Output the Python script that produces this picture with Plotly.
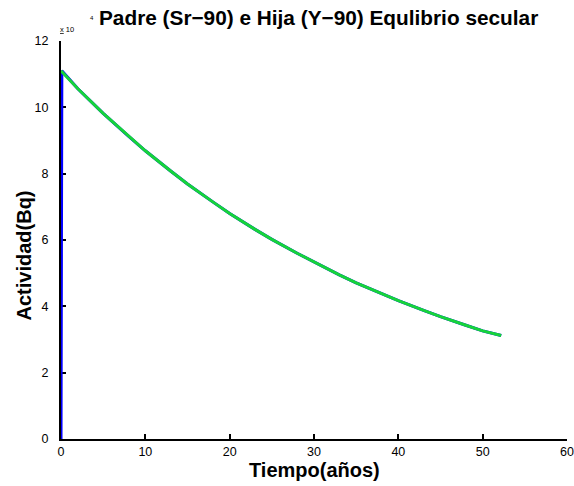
import plotly.graph_objects as go

# Parent (Sr-90) activity, in units of 1e4 Bq
t_parent = [0, 2, 5, 8, 10, 13, 15, 18, 20, 23, 25, 28, 30, 33, 35, 38, 40, 43, 45, 48, 50, 52.2]
a_parent = [11.10, 10.56, 9.82, 9.13, 8.69, 8.08, 7.69, 7.15, 6.80, 6.32, 6.02, 5.60, 5.33, 4.95, 4.71, 4.38, 4.17, 3.88, 3.69, 3.43, 3.26, 3.12]

# Daughter (Y-90) activity, in units of 1e4 Bq: rapid ingrowth then equilibrium
t_daughter = [0, 0.01, 0.02, 0.04, 0.07, 0.1, 2, 5, 8, 10, 13, 15, 18, 20, 23, 25, 28, 30, 33, 35, 38, 40, 43, 45, 48, 50, 52.2]
a_daughter = [0, 6.8, 9.4, 10.8, 11.08, 11.10, 10.56, 9.82, 9.13, 8.69, 8.08, 7.69, 7.15, 6.80, 6.32, 6.02, 5.60, 5.33, 4.95, 4.71, 4.38, 4.17, 3.88, 3.69, 3.43, 3.26, 3.12]

x_ticks = [0, 10, 20, 30, 40, 50, 60]
y_ticks = [0, 2, 4, 6, 8, 10, 12]

FONT = "Liberation Sans, Arial, sans-serif"

fig = go.Figure()
fig.add_trace(go.Scatter(x=t_daughter, y=a_daughter, mode="lines",
                         line=dict(color="#0000ff", width=3), showlegend=False))
fig.add_trace(go.Scatter(x=t_parent, y=a_parent, mode="lines",
                         line=dict(color="#16d43a", width=3), showlegend=False))

fig.update_layout(
    width=574, height=486,
    margin=dict(l=61, r=7, t=41, b=47),
    plot_bgcolor="white", paper_bgcolor="white",
    font=dict(family=FONT, size=12.5, color="black"),
    xaxis=dict(range=[0, 60], tickvals=x_ticks, showgrid=False, zeroline=False,
               automargin=False, layer="below traces",
               showline=True, linecolor="black", linewidth=2,
               ticks="inside", ticklen=5, tickwidth=2, tickcolor="black",
               tickfont=dict(size=12.5, family=FONT)),
    yaxis=dict(range=[0, 12], tickvals=y_ticks, showgrid=False, zeroline=False,
               automargin=False, layer="below traces",
               showline=True, linecolor="black", linewidth=2,
               ticks="inside", ticklen=5, tickwidth=2, tickcolor="black",
               tickfont=dict(size=12.5, family=FONT), ticklabelstandoff=8),
    annotations=[
        dict(text="<b>Padre (Sr\u221290) e Hija (Y\u221290) Equlibrio secular</b>",
             xref="paper", yref="paper", x=0.508, y=1.058, showarrow=False, borderpad=0,
             font=dict(size=20.8, family=FONT), xanchor="center", yanchor="middle"),
        dict(text="<u>x</u> 10", xref="paper", yref="paper", x=0.011, y=1.030, showarrow=False,
             font=dict(size=7.5, family=FONT), xanchor="center", yanchor="middle"),
        dict(text="4", xref="paper", yref="paper", x=0.061, y=1.058, showarrow=False,
             font=dict(size=6, family=FONT), xanchor="center", yanchor="middle"),
        dict(text="<b>Tiempo(años)</b>", xref="paper", yref="paper", x=0.5, y=-0.078,
             showarrow=False, font=dict(size=20, family=FONT), xanchor="center", yanchor="middle"),
        dict(text="<b>Actividad(Bq)</b>", xref="paper", yref="paper", x=-0.074, y=0.46,
             showarrow=False, textangle=-90, font=dict(size=20, family=FONT),
             xanchor="center", yanchor="middle"),
    ],
)

fig.write_html("out.html", config={"displayModeBar": False},
               post_script="document.body.style.margin='0';document.body.style.overflow='hidden';")
